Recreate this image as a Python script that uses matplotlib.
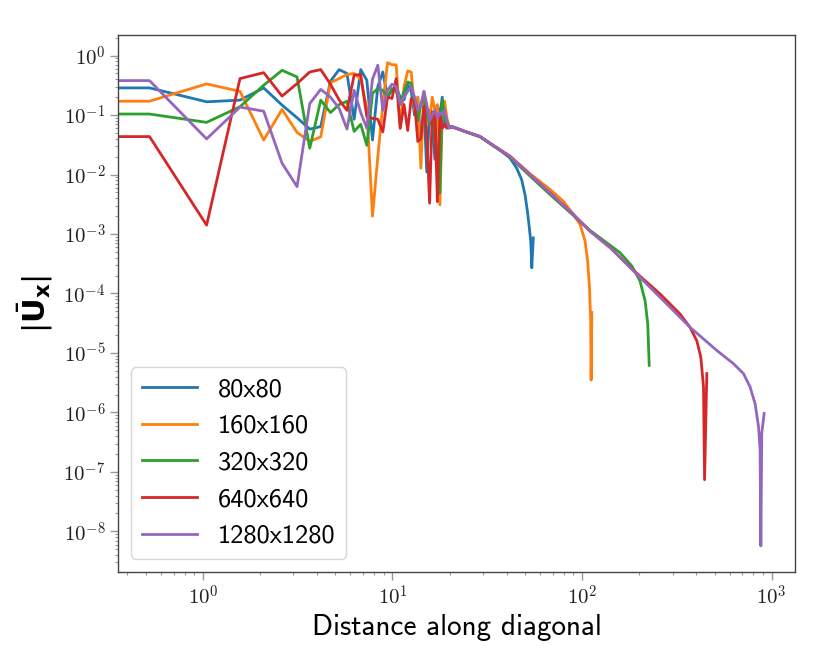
import numpy as np
import matplotlib
matplotlib.use("Agg")
import matplotlib.pyplot as plt
from matplotlib.ticker import LogLocator, FuncFormatter, NullFormatter

plt.rcParams['mathtext.fontset'] = 'cm'

# sample spacing along the diagonal (same for every grid)
step = 0.523

labels = ['80x80', '160x160', '320x320', '640x640', '1280x1280']

# noisy near-field part, one value per sample k = 0..39
near_80 = [0.286, 0.286, 0.167, 0.178, 0.286, 0.147, 0.09, 0.058, 0.064, 0.37,
           0.58, 0.5, 0.085, 0.58, 0.385, 0.038, 0.3, 0.53, 0.2, 0.26,
           0.3, 0.2, 0.18, 0.33, 0.25, 0.1, 0.2, 0.03, 0.15, 0.011,
           0.12, 0.08, 0.018, 0.14, 0.1, 0.2, 0.065, 0.07, 0.065, 0.064]
near_160 = [0.171, 0.171, 0.334, 0.25, 0.038, 0.124, 0.051, 0.036, 0.043, 0.35,
            0.41, 0.48, 0.5, 0.4, 0.13, 0.002, 0.02, 0.15, 0.76, 0.7,
            0.7, 0.06, 0.3, 0.55, 0.53, 0.12, 0.2, 0.0128, 0.25, 0.13,
            0.08, 0.2, 0.12, 0.15, 0.0031, 0.1, 0.17, 0.09, 0.065, 0.064]
near_320 = [0.104, 0.104, 0.0753, 0.138, 0.317, 0.565, 0.437, 0.0277, 0.178, 0.11,
            0.15, 0.17, 0.053, 0.07, 0.031, 0.23, 0.28, 0.26, 0.2, 0.28,
            0.25, 0.15, 0.25, 0.36, 0.34, 0.15, 0.08, 0.15, 0.2, 0.1,
            0.07, 0.1, 0.05, 0.02, 0.0049, 0.18, 0.1, 0.07, 0.065, 0.064]
near_640 = [0.0434, 0.0434, 0.00141, 0.41, 0.516, 0.208, 0.338, 0.53, 0.58, 0.33,
            0.18, 0.12, 0.47, 0.48, 0.094, 0.088, 0.085, 0.052, 0.2, 0.19,
            0.41, 0.06, 0.15, 0.055, 0.19, 0.17, 0.036, 0.04, 0.14, 0.05,
            0.0033, 0.113, 0.1, 0.0035, 0.1, 0.06, 0.07, 0.06, 0.062, 0.062]
near_1280 = [0.379, 0.379, 0.0397, 0.136, 0.116, 0.0155, 0.00625, 0.156, 0.27, 0.2,
             0.13, 0.058, 0.26, 0.11, 0.06, 0.4, 0.69, 0.12, 0.26, 0.33,
             0.3, 0.15, 0.2, 0.25, 0.3, 0.2, 0.12, 0.15, 0.25, 0.15,
             0.08, 0.1, 0.12, 0.09, 0.11, 0.1, 0.12, 0.08, 0.06, 0.063]

# smooth far-field part
far_x_80 = [20.9, 24.1, 29, 32.7, 36.9, 41.7, 45.2, 48.0, 50.0, 51.5, 52.7,
            53.6, 54.3, 55.3]
far_y_80 = [0.063, 0.053, 0.0434, 0.0335, 0.026, 0.0188, 0.0128, 0.0082, 0.0046,
            0.0024, 0.00127, 7.6e-4, 2.7e-4, 8.6e-4]

far_x_160 = [20.9, 24.1, 29, 32.7, 41.7, 53.2, 67.8, 79.7, 90, 97.6, 103.7, 107,
             109.4, 111, 111.6, 112.6]
far_y_160 = [0.063, 0.053, 0.0434, 0.0335, 0.0204, 0.0103, 0.0056, 0.00355, 0.00213,
             1.45e-3, 7.6e-4, 3.5e-4, 1.27e-4, 3.5e-5, 3.5e-6, 4.8e-5]

far_x_320 = [20.9, 24.1, 29, 32.7, 41.7, 53.2, 67.8, 90, 110, 124.5, 158.6, 183,
             202, 215, 222, 226]
far_y_320 = [0.063, 0.053, 0.0428, 0.033, 0.0195, 0.0094, 0.0046, 0.00205, 0.00115,
             8.6e-4, 4.85e-4, 2.9e-4, 1.63e-4, 7.5e-5, 3.1e-5, 6.2e-6]

far_x_640 = [20.9, 24.1, 29, 32.7, 41.7, 53.2, 67.8, 90, 110, 140.6, 186.6, 258,
             329, 371, 403, 423, 437, 442.7, 455]
far_y_640 = [0.062, 0.053, 0.0434, 0.0335, 0.0201, 0.0099, 0.0049, 0.00213, 0.00112,
             5.9e-4, 2.45e-4, 9.8e-5, 4.5e-5, 2.7e-5, 1.6e-5, 8.5e-6, 2.7e-6,
             7.4e-8, 4.5e-6]

far_x_1280 = [20.9, 24.1, 29, 32.7, 41.7, 53.2, 67.8, 90, 110, 140.6, 186.6, 280,
              371, 514, 629, 710, 769, 818, 853, 869, 877, 887, 913]
far_y_1280 = [0.063, 0.053, 0.0434, 0.0335, 0.0201, 0.0099, 0.0049, 0.00213,
              0.00112, 5.9e-4, 2.4e-4, 6.65e-5, 2.7e-5, 1.1e-5, 6.6e-6, 4.5e-6,
              2.7e-6, 1.4e-6, 5.7e-7, 2.3e-7, 5.7e-9, 4.5e-7, 9.6e-7]

near = [near_80, near_160, near_320, near_640, near_1280]
far_x = [far_x_80, far_x_160, far_x_320, far_x_640, far_x_1280]
far_y = [far_y_80, far_y_160, far_y_320, far_y_640, far_y_1280]

fig = plt.figure(figsize=(8.3, 6.64), dpi=100)
ax = fig.add_axes([0.142, 0.139, 0.816, 0.808])

for lab, nv, fx, fy in zip(labels, near, far_x, far_y):
    d = np.arange(len(nv)) * step
    x = np.concatenate([d, fx])
    y = np.concatenate([nv, fy])
    ax.plot(x, y, lw=2, label=lab)

ax.set_xscale('log')
ax.set_yscale('log')
ax.set_xlim(0.356, 1330)
ax.set_ylim(2.1e-9, 2.2)

fmt = FuncFormatter(lambda v, p: r'$10^{%d}$' % int(round(np.log10(v))))
for axis in (ax.xaxis, ax.yaxis):
    axis.set_major_locator(LogLocator(base=10, numticks=30))
    axis.set_minor_locator(LogLocator(base=10, subs=np.arange(2, 10), numticks=30))
    axis.set_major_formatter(fmt)
    axis.set_minor_formatter(NullFormatter())

ax.tick_params(which='major', length=6, width=1, color='#999999', labelsize=15,
               labelcolor='#222222', pad=3)
ax.tick_params(which='minor', length=2.5, width=0.8, color='#999999')
for s in ax.spines.values():
    s.set_color('#444444')
    s.set_linewidth(1.0)

ax.set_xlabel('Distance along diagonal', fontsize=21, family='cmss10', labelpad=4)
ax.set_ylabel(r'$|\bar{\mathbf{U}}_{\mathbf{x}}|$', fontsize=22,
              math_fontfamily='dejavusans', labelpad=6)

leg = ax.legend(loc='lower left', prop={'family': 'cmss10', 'size': 19},
                handlelength=2.1, framealpha=0.8, edgecolor='#cccccc')

fig.savefig('out.png', dpi=100)
